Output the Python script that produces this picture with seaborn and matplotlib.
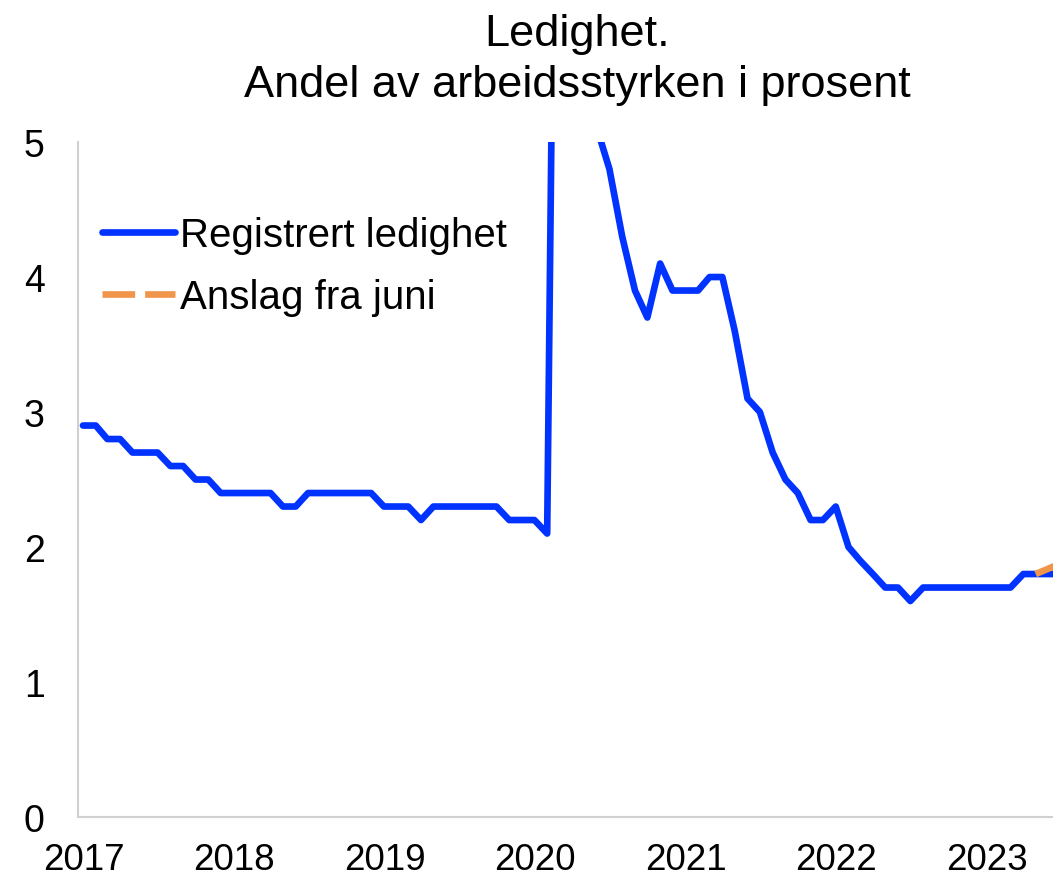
import matplotlib
matplotlib.use("Agg")
import matplotlib.pyplot as plt
import matplotlib.transforms as mtransforms
import seaborn as sns
import pandas as pd

# Registrert ledighet, månedlig fra januar 2017 (prosent av arbeidsstyrken)
ledighet = [
    2.9, 2.9, 2.8, 2.8, 2.7, 2.7, 2.7, 2.6, 2.6, 2.5, 2.5, 2.4,   # 2017
    2.4, 2.4, 2.4, 2.4, 2.3, 2.3, 2.4, 2.4, 2.4, 2.4, 2.4, 2.4,   # 2018
    2.3, 2.3, 2.3, 2.2, 2.3, 2.3, 2.3, 2.3, 2.3, 2.3, 2.2, 2.2,   # 2019
    2.2, 2.1, 10.4, 10.6, 7.0, 5.1, 4.8, 4.3, 3.9, 3.7, 4.1, 3.9, # 2020
    3.9, 3.9, 4.0, 4.0, 3.6, 3.1, 3.0, 2.7, 2.5, 2.4, 2.2, 2.2,   # 2021
    2.3, 2.0, 1.9, 1.8, 1.7, 1.7, 1.6, 1.7, 1.7, 1.7, 1.7, 1.7,   # 2022
    1.7, 1.7, 1.7, 1.8, 1.8, 1.8, 1.8,                            # 2023
]
# Anslag fra juni, fra mai 2023
anslag_start = "2023-05-01"
anslag = [1.8, 1.84, 1.88]

years = [2017, 2018, 2019, 2020, 2021, 2022, 2023]
title = "Ledighet.\nAndel av arbeidsstyrken i prosent"
blue = "#0033ff"
orange = "#f0954a"
grey = "#d0d0d0"

dates = pd.date_range("2017-01-01", periods=len(ledighet), freq="MS") + pd.Timedelta(days=12)
adates = pd.date_range(anslag_start, periods=len(anslag), freq="MS") + pd.Timedelta(days=12)
df = pd.DataFrame({"dato": dates, "verdi": ledighet})
df_a = pd.DataFrame({"dato": adates, "verdi": anslag})

sns.set_style("white")
plt.rcParams["font.family"] = ["Liberation Sans", "DejaVu Sans"]
plt.rcParams["text.color"] = "black"
plt.rcParams["xtick.labelcolor"] = "black"
plt.rcParams["ytick.labelcolor"] = "black"

fig = plt.figure(figsize=(10.53, 8.78), dpi=100)
ax = fig.add_axes([0.0741, 0.0683, 0.9259, 0.7688])

sns.lineplot(data=df, x="dato", y="verdi", color=blue, linewidth=4.8,
             label="Registrert ledighet", ax=ax)
sns.lineplot(data=df_a, x="dato", y="verdi", color=orange, linewidth=4.8,
             label="Anslag fra juni", ax=ax)
ax.lines[1].set_dashes([4.9, 1.5])

ax.set_ylim(0, 5)
ax.set_xlim(pd.Timestamp("2017-01-01"), pd.Timestamp("2023-06-24"))
ax.set_yticks([0, 1, 2, 3, 4, 5])
ax.set_xticks([pd.Timestamp(f"{y}-01-01") for y in years])
ax.set_xticklabels([str(y) for y in years])
ax.set_xlabel("")
ax.set_ylabel("")

for s in ["top", "right"]:
    ax.spines[s].set_visible(False)
for s in ["left", "bottom"]:
    ax.spines[s].set_color(grey)
    ax.spines[s].set_linewidth(1.5)
ax.tick_params(axis="x", direction="in", length=11, width=1, color=grey,
               labelsize=26.5, pad=18)
ax.tick_params(axis="y", direction="in", length=8, width=1, color=grey,
               labelsize=27, pad=24)

# year labels sit a little right of their tick in the original
shift = mtransforms.ScaledTranslation(5.5 / 100, 0, fig.dpi_scale_trans)
for lbl in ax.get_xticklabels():
    lbl.set_transform(lbl.get_transform() + shift)

leg = ax.legend(loc="upper left", bbox_to_anchor=(0.025, 0.89), frameon=False,
                fontsize=29, handlelength=1.8, handletextpad=0.12,
                labelspacing=0.6, borderaxespad=0, borderpad=0)

fig.text(0.548, 0.984, title, ha="center", va="top", fontsize=32.5,
         linespacing=1.3)

fig.savefig("out.png", dpi=100)
